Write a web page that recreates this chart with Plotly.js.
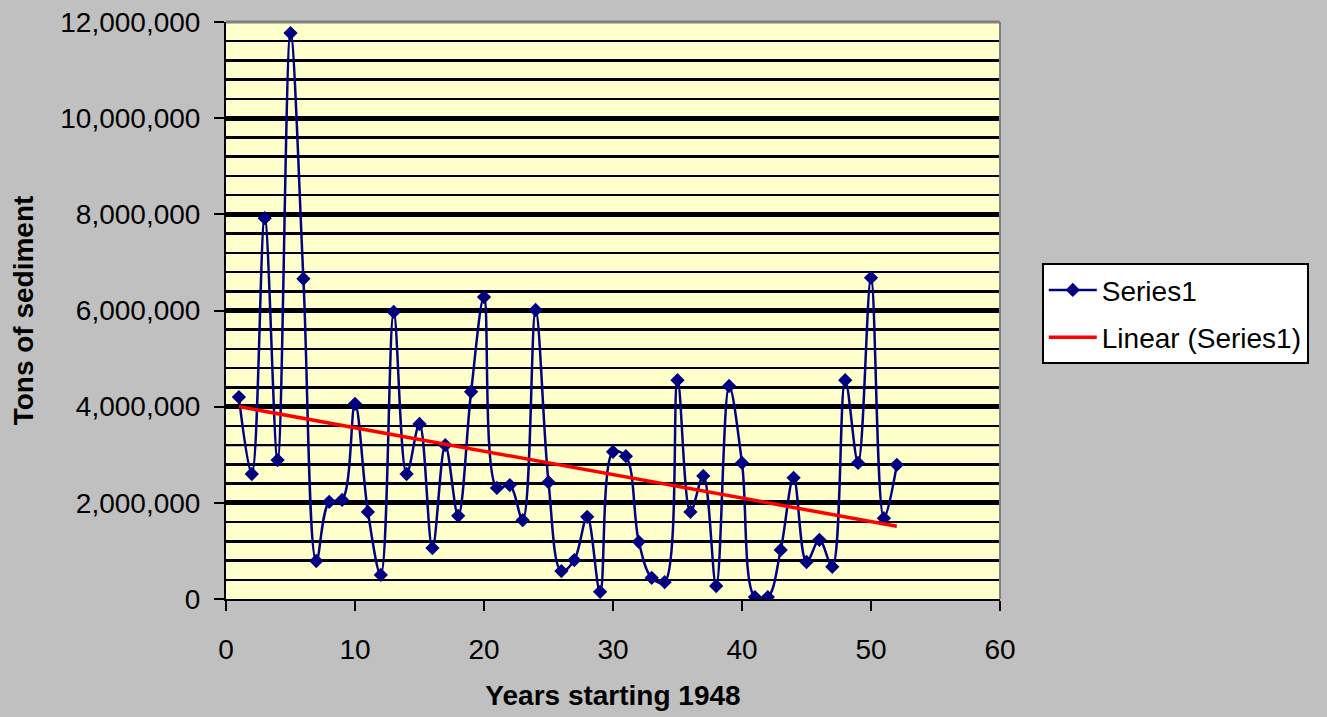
<!DOCTYPE html>
<html>
<head>
<meta charset="utf-8">
<script src="https://cdn.plot.ly/plotly-3.0.1.min.js"></script>
<style>html,body{margin:0;padding:0;background:#C0C0C0;}#chart{width:1327px;height:717px;}</style>
</head>
<body>
<div id="chart"></div>
<script>
const years = [];
for (let i = 1; i <= 52; i++) years.push(i);
const sediment = [
  4200000, 2600000, 7920000, 2890000, 11770000, 6660000, 790000, 2020000, 2060000, 4060000,
  1810000, 500000, 5970000, 2600000, 3640000, 1060000, 3200000, 1730000, 4310000, 6280000,
  2310000, 2370000, 1640000, 6010000, 2430000, 580000, 810000, 1710000, 150000, 3060000,
  2970000, 1190000, 440000, 350000, 4550000, 1810000, 2560000, 270000, 4430000, 2830000,
  40000, 40000, 1020000, 2520000, 770000, 1230000, 670000, 4550000, 2830000, 6680000,
  1680000, 2790000
];
const yTickVals = [0, 2000000, 4000000, 6000000, 8000000, 10000000, 12000000];
const xTickVals = [0, 10, 20, 30, 40, 50, 60];

// least-squares linear trend of the series
const n = years.length;
const mx = years.reduce((a, b) => a + b, 0) / n;
const my = sediment.reduce((a, b) => a + b, 0) / n;
let sxy = 0, sxx = 0;
for (let i = 0; i < n; i++) { sxy += (years[i] - mx) * (sediment[i] - my); sxx += (years[i] - mx) ** 2; }
const slope = sxy / sxx, intercept = my - slope * mx;
const trendX = [years[0], years[n - 1]];
const trendY = trendX.map(x => intercept + slope * x);

const FS = 28;
const font = {family: 'Liberation Sans, Arial, sans-serif', color: '#000'};
const f = (s) => Object.assign({size: s}, font);
const data = [
  {x: years, y: sediment, type: 'scatter', mode: 'lines+markers', name: 'Series1', legendgroup: 'a',
   line: {color: '#000080', width: 2.5, shape: 'spline', smoothing: 1},
   marker: {symbol: 'diamond', size: 11, color: '#000080'}},
  {x: trendX, y: trendY, type: 'scatter', mode: 'lines', name: 'Linear (Series1)', legendgroup: 'b',
   line: {color: '#FF0000', width: 3.5}}
];
const layout = {
  width: 1327, height: 717,
  paper_bgcolor: '#C0C0C0', plot_bgcolor: '#FFFFCC',
  margin: {l: 226, r: 327, t: 22, b: 118},
  font: f(FS),
  showlegend: true,
  legend: {x: 1.054, y: 0.582, xanchor: 'left', yanchor: 'top', bgcolor: '#FFFFFF',
           bordercolor: '#000', borderwidth: 2, font: f(FS),
           traceorder: 'grouped', tracegroupgap: 8, itemwidth: 48},
  xaxis: {range: [0, 60], tickvals: xTickVals, showgrid: false, zeroline: false,
          showline: true, linecolor: '#000', linewidth: 2, ticks: 'outside', ticklen: 10,
          tickwidth: 2, tickcolor: '#000', tickfont: f(FS), ticklabelstandoff: 14,
          title: {text: '<b>Years starting 1948</b>', font: f(FS), standoff: 22}},
  yaxis: {range: [0, 12000000], tickvals: yTickVals, tickformat: ',d', showgrid: true,
          gridcolor: '#000', gridwidth: 5, zeroline: false,
          showline: true, linecolor: '#000', linewidth: 2, ticks: 'outside', ticklen: 10,
          tickwidth: 2, tickcolor: '#000', tickfont: f(FS), ticklabelstandoff: 8,
          minor: {dtick: 400000, showgrid: true, gridcolor: '#000', gridwidth: 2.5},
          title: {text: '<b>Tons of sediment</b>', font: f(FS), standoff: 18}},
  shapes: [
    {type: 'line', xref: 'paper', yref: 'paper', x0: 0, x1: 1, y0: 1, y1: 1, line: {color: '#808080', width: 3}, layer: 'above'},
    {type: 'line', xref: 'paper', yref: 'paper', x0: 1, x1: 1, y0: 0, y1: 1, line: {color: '#808080', width: 2}, layer: 'above'},
    {type: 'line', xref: 'paper', yref: 'y', x0: 0, x1: 1, y0: 3200000, y1: 3200000, line: {color: '#808080', width: 2.5}, layer: 'between'}
  ]
};
Plotly.newPlot('chart', data, layout, {displayModeBar: false, staticPlot: true});
</script>
</body>
</html>
